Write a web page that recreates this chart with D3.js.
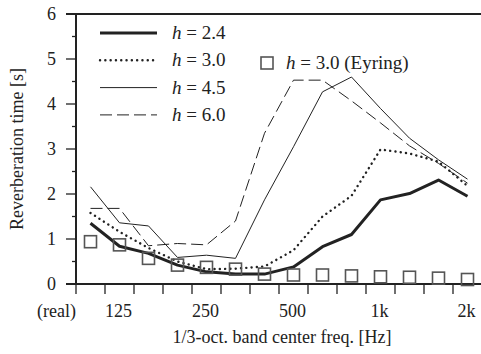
<!DOCTYPE html>
<html>
<head>
<meta charset="utf-8">
<script src="https://cdn.jsdelivr.net/npm/d3@7"></script>
<style>
  body { margin: 0; background: #fff; }
  svg { display: block; font-family: "Liberation Serif", "Times New Roman", serif; }
</style>
</head>
<body>
<svg width="481" height="354"></svg>
<script>
// 1/3-octave bands (first one is shown as "(real)")
var bands = ['100', '125', '160', '200', '250', '315', '400', '500', '630', '800', '1k', '1.25k', '1.6k', '2k'];
var labelled = ['125', '250', '500', '1k', '2k'];
var yTicks = [0, 1, 2, 3, 4, 5, 6];

var h24 = [1.35, 0.84, 0.68, 0.42, 0.27, 0.22, 0.22, 0.38, 0.83, 1.10, 1.87, 2.01, 2.31, 1.95];
var h30 = [1.58, 1.16, 0.80, 0.50, 0.33, 0.34, 0.39, 0.75, 1.50, 1.96, 2.99, 2.90, 2.72, 2.18];
var h45 = [2.16, 1.36, 1.29, 0.59, 0.64, 0.57, 1.87, 3.05, 4.27, 4.60, 3.90, 3.24, 2.76, 2.33];
var h60 = [1.68, 1.68, 0.85, 0.90, 0.87, 1.40, 3.35, 4.53, 4.53, 4.07, 3.58, 3.07, 2.68, 2.24];
var eyring = [0.94, 0.87, 0.57, 0.42, 0.37, 0.33, 0.22, 0.20, 0.20, 0.18, 0.16, 0.15, 0.13, 0.10];

var series = [
  { name: '2.4', values: h24, width: 3, dash: null },
  { name: '3.0', values: h30, width: 2.4, dash: '0.1,5.2', cap: 'round' },
  { name: '4.5', values: h45, width: 1, dash: null },
  { name: '6.0', values: h60, width: 1, dash: '12,5' }
];

var plotLeft = 76, plotTop = 14, plotBottom = 284, plotRight = 482;
var ink = '#222';
var fs = 18;

var svg = d3.select('svg');

var x = d3.scaleBand()
  .domain(bands)
  .range([plotLeft, plotRight]);

var y = d3.scaleLinear()
  .domain([0, 6])
  .range([plotBottom, plotTop]);

// frame lines
svg.append('line')
  .attr('x1', plotLeft - 10).attr('x2', 481)
  .attr('y1', y(6)).attr('y2', y(6))
  .attr('stroke', ink).attr('stroke-width', 2);
svg.append('line')
  .attr('x1', plotLeft - 10).attr('x2', 481)
  .attr('y1', y(0)).attr('y2', y(0))
  .attr('stroke', ink).attr('stroke-width', 2);
svg.append('line')
  .attr('x1', plotLeft).attr('x2', plotLeft)
  .attr('y1', y(6)).attr('y2', y(0))
  .attr('stroke', ink).attr('stroke-width', 2);

// y ticks
var yAxis = svg.append('g').classed('y-axis', true);
yAxis.selectAll('.major')
  .data(yTicks)
  .enter()
  .append('line')
  .attr('x1', plotLeft - 10).attr('x2', plotLeft)
  .attr('y1', d => y(d)).attr('y2', d => y(d))
  .attr('stroke', ink).attr('stroke-width', 1.3);
yAxis.selectAll('.minor')
  .data(yTicks.slice(0, -1).map(d => d + 0.5))
  .enter()
  .append('line')
  .attr('x1', plotLeft - 4).attr('x2', plotLeft)
  .attr('y1', d => y(d)).attr('y2', d => y(d))
  .attr('stroke', ink).attr('stroke-width', 1.3);
yAxis.selectAll('text')
  .data(yTicks)
  .enter()
  .append('text')
  .attr('x', plotLeft - 20)
  .attr('y', d => y(d) + 6)
  .attr('text-anchor', 'end')
  .attr('font-size', fs)
  .attr('fill', ink)
  .text(d => d);

// x ticks on band edges
var xAxis = svg.append('g').classed('x-axis', true);
xAxis.selectAll('line')
  .data(bands)
  .enter()
  .append('line')
  .attr('x1', d => x(d)).attr('x2', d => x(d))
  .attr('y1', plotBottom).attr('y2', plotBottom + 10)
  .attr('stroke', ink).attr('stroke-width', 1.3);
xAxis.selectAll('text')
  .data(labelled)
  .enter()
  .append('text')
  .attr('x', d => x(d) + x.bandwidth() / 2 - 1)
  .attr('y', plotBottom + 33)
  .attr('text-anchor', 'middle')
  .attr('font-size', fs)
  .attr('fill', ink)
  .text(d => d);
xAxis.append('text')
  .attr('x', x(bands[0]) + x.bandwidth() / 2 - 34)
  .attr('y', plotBottom + 33)
  .attr('text-anchor', 'middle')
  .attr('font-size', fs)
  .attr('fill', ink)
  .text('(real)');

svg.append('text')
  .attr('x', 282)
  .attr('y', 343)
  .attr('text-anchor', 'middle')
  .attr('font-size', fs)
  .attr('fill', ink)
  .text('1/3-oct. band center freq. [Hz]');

svg.append('text')
  .attr('transform', 'translate(23,' + (plotTop + plotBottom) / 2 + ') rotate(-90)')
  .attr('text-anchor', 'middle')
  .attr('font-size', fs)
  .attr('fill', ink)
  .text('Reverberation time [s]');

// lines
var line = d3.line()
  .x((d, i) => x(bands[i]) + x.bandwidth() / 2)
  .y(d => y(d));

svg.selectAll('.series')
  .data(series)
  .enter()
  .append('path')
  .classed('series', true)
  .attr('d', d => line(d.values))
  .attr('fill', 'none')
  .attr('stroke', ink)
  .attr('stroke-width', d => d.width)
  .attr('stroke-dasharray', d => d.dash)
  .attr('stroke-linecap', d => d.cap || 'butt')
  .attr('stroke-linejoin', 'round');

// Eyring squares
var sq = 12;
svg.selectAll('.eyring')
  .data(eyring)
  .enter()
  .append('rect')
  .classed('eyring', true)
  .attr('x', (d, i) => x(bands[i]) + x.bandwidth() / 2 - sq / 2)
  .attr('y', d => y(d) - sq / 2)
  .attr('width', sq)
  .attr('height', sq)
  .attr('fill', 'none')
  .attr('stroke', '#555')
  .attr('stroke-width', 1.6);

// legend
var legend = svg.append('g').classed('legend', true);
var rows = legend.selectAll('g')
  .data(series)
  .enter()
  .append('g')
  .attr('transform', (d, i) => 'translate(100,' + (33 + i * 27.3) + ')');
rows.append('line')
  .attr('x1', 0).attr('x2', 57)
  .attr('stroke', ink)
  .attr('stroke-width', d => d.width)
  .attr('stroke-dasharray', d => d.dash)
  .attr('stroke-linecap', d => d.cap || 'butt');
var lbl = rows.append('text')
  .attr('x', 72)
  .attr('y', 6)
  .attr('font-size', fs + 1)
  .attr('fill', ink);
lbl.append('tspan').attr('font-style', 'italic').text('h');
lbl.append('tspan').text(d => ' = ' + d.name);

var ey = legend.append('g').attr('transform', 'translate(267,63)');
ey.append('rect')
  .attr('x', -sq / 2).attr('y', -sq / 2)
  .attr('width', sq).attr('height', sq)
  .attr('fill', 'none')
  .attr('stroke', '#555')
  .attr('stroke-width', 1.6);
var eyText = ey.append('text')
  .attr('x', 19)
  .attr('y', 6)
  .attr('font-size', fs + 1)
  .attr('fill', ink);
eyText.append('tspan').attr('font-style', 'italic').text('h');
eyText.append('tspan').text(' = 3.0 (Eyring)');
</script>
</body>
</html>
